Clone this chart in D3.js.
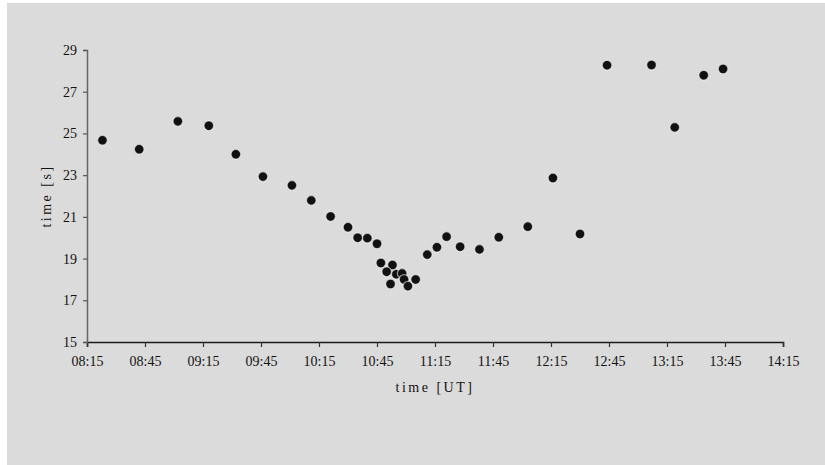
<!DOCTYPE html>
<html>
<head>
<meta charset="utf-8">
<script src="https://cdn.jsdelivr.net/npm/d3@7"></script>
<style>
  html, body { margin: 0; padding: 0; background: #ffffff; }
  svg { display: block; }
</style>
</head>
<body>
<svg id="chart" width="825" height="465"></svg>
<script>
// Observation times (UT) and the measured time values in seconds
const obsTimes = [
  "08:23", "08:42", "09:02", "09:18", "09:32", "09:46", "10:01", "10:11",
  "10:21", "10:30", "10:35", "10:40", "10:45",
  "10:47", "10:53", "10:50", "10:55", "10:58", "10:59", "11:05", "10:52", "11:01",
  "11:11", "11:16", "11:21", "11:28", "11:38", "11:48", "12:03", "12:16",
  "12:30", "12:44", "13:07", "13:19", "13:34", "13:44"
];
const obsValues = [
  24.67, 24.24, 25.58, 25.37, 24.0, 22.93, 22.51, 21.79,
  21.02, 20.5, 20.0, 19.98, 19.71,
  18.79, 18.69, 18.37, 18.25, 18.29, 18.0, 18.0, 17.78, 17.68,
  19.19, 19.54, 20.05, 19.57, 19.44, 20.02, 20.53, 22.86,
  20.18, 28.27, 28.28, 25.29, 27.79, 28.09
];

// Axis ticks
const xTickLabels = ["08:15", "08:45", "09:15", "09:45", "10:15", "10:45",
                     "11:15", "11:45", "12:15", "12:45", "13:15", "13:45", "14:15"];
const yTickValues = [15, 17, 19, 21, 23, 25, 27, 29];

const parseTime = d3.timeParse("%H:%M");
const svg = d3.select("#chart");

// Paper-grey page
svg.append("rect")
  .attr("x", 7).attr("y", 3)
  .attr("width", 818).attr("height", 462)
  .attr("fill", "#dbdbdb");

const plot = { left: 87, right: 783, top: 50, bottom: 342 };

const x = d3.scaleTime()
  .domain([parseTime(xTickLabels[0]), parseTime(xTickLabels[xTickLabels.length - 1])])
  .range([plot.left, plot.right]);

const y = d3.scaleLinear()
  .domain([15, 29])
  .range([plot.bottom, plot.top]);

const fontFamily = "'Liberation Serif', 'Times New Roman', serif";

// X axis
const xAxis = d3.axisBottom(x)
  .tickValues(xTickLabels.map(parseTime))
  .tickFormat(d3.timeFormat("%H:%M"))
  .tickSize(5)
  .tickPadding(9);

const gx = svg.append("g")
  .attr("transform", `translate(0,${plot.bottom})`)
  .call(xAxis);
gx.select(".domain").attr("stroke", "#1a1a1a").attr("stroke-width", 1.6);
gx.selectAll(".tick line").attr("stroke", "#333").attr("stroke-width", 1.2);
gx.selectAll(".tick text")
  .attr("fill", "#111")
  .style("font-family", fontFamily)
  .style("font-size", "14px");

// Y axis
const yAxis = d3.axisLeft(y)
  .tickValues(yTickValues)
  .tickSize(4)
  .tickPadding(6);

const gy = svg.append("g")
  .attr("transform", `translate(${plot.left},0)`)
  .call(yAxis);
gy.select(".domain").attr("stroke", "#666").attr("stroke-width", 1.5);
gy.selectAll(".tick line").attr("stroke", "#555").attr("stroke-width", 1.2);
gy.selectAll(".tick text")
  .attr("fill", "#111")
  .style("font-family", fontFamily)
  .style("font-size", "14px");

// Axis titles
svg.append("text")
  .attr("x", 435).attr("y", 392)
  .attr("text-anchor", "middle")
  .style("font-family", fontFamily)
  .style("font-size", "14px")
  .style("letter-spacing", "2.5px")
  .attr("fill", "#111")
  .text("time [UT]");

svg.append("text")
  .attr("transform", "translate(51,196) rotate(-90)")
  .attr("text-anchor", "middle")
  .style("font-family", fontFamily)
  .style("font-size", "14px")
  .style("letter-spacing", "2.5px")
  .attr("fill", "#111")
  .text("time [s]");

// Data points
const points = obsTimes.map((t, i) => ({ t: parseTime(t), v: obsValues[i] }));

svg.append("g")
  .selectAll("circle")
  .data(points)
  .join("circle")
  .attr("cx", d => x(d.t))
  .attr("cy", d => y(d.v))
  .attr("r", 4.8)
  .attr("fill", "#111")
  .attr("stroke", "rgba(255,255,255,0.55)")
  .attr("stroke-width", 1.2);
</script>
</body>
</html>
